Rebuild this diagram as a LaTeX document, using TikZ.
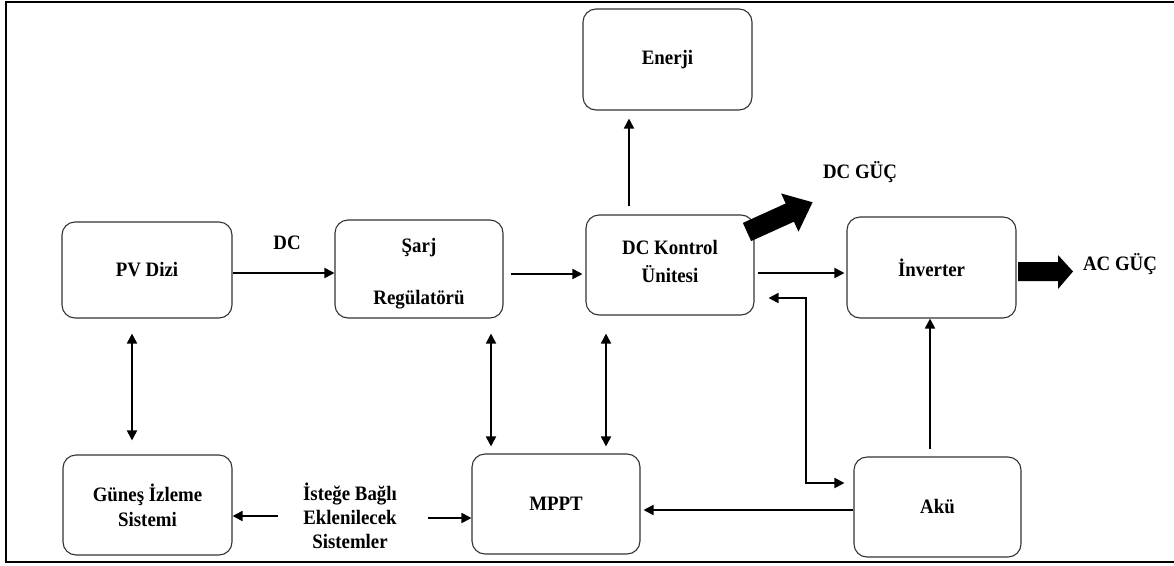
\documentclass[tikz,border=0pt]{standalone}
\usepackage{fontspec}
\setmainfont{Liberation Serif}[FakeStretch=0.92]
\usetikzlibrary{arrows.meta}
\begin{document}
\begin{tikzpicture}[x=1pt,y=-1pt,
  blk/.style={draw=black!80,line width=1.1pt,rounded corners=13pt,minimum width=168pt,minimum height=100pt,inner sep=0pt,align=center,font=\fontsize{20.5}{25}\selectfont\bfseries},
  lbl/.style={inner sep=0pt,align=center,font=\fontsize{20.5}{24}\selectfont\bfseries},
  arr/.style={line width=1.8pt,-{Triangle[length=10pt,width=10pt]}},
  darr/.style={line width=1.8pt,{Triangle[length=10pt,width=10pt]}-{Triangle[length=10pt,width=10pt]}},
  plain/.style={line width=1.8pt}]
\useasboundingbox (0,0) rectangle (1174,565);
\draw[line width=1.6pt] (1174,2) -- (6,2) -- (6,562) -- (1174,562);

\node[blk,minimum width=170pt,minimum height=96pt] (pv) at (147,270) {PV Dizi};
\node[blk,minimum height=98pt] (sarj) at (419,269) {};
\node[lbl,font=\fontsize{20.5}{23}\selectfont\bfseries] (sarjt) at (419,274) {Şarj\\[29pt]Regülatörü};
\node[blk] (dc) at (670,265) {};
\node[lbl,font=\fontsize{20.5}{23}\selectfont\bfseries] (dct) at (670,261) {DC Kontrol\\[5pt]Ünitesi};
\node[blk,minimum width=169pt,minimum height=101pt] (inv) at (931.5,267.5) {İnverter};
\node[blk,minimum width=169pt,minimum height=101pt] (en) at (667.5,59.5) {Enerji};
\node[blk,minimum width=169pt] (gun) at (147.5,505) {Güneş İzleme\\Sistemi};
\node[blk] (mppt) at (556,504) {MPPT};
\node[blk,minimum width=167pt] (aku) at (937.5,507) {Akü};

\node[lbl] (dclbl) at (287,243) {DC};
\node[lbl] (dcguc) at (860,172) {DC GÜÇ};
\node[lbl] (acguc) at (1120,264) {AC GÜÇ};
\node[lbl] (ist) at (350,516) {İsteğe Bağlı\\Eklenilecek\\Sistemler};

% horizontal arrows
\draw[arr] (pv.east |- 0,273) -- (sarj.west |- 0,273);
\draw[arr,shorten <=7pt,shorten >=3pt] (sarj.east |- 0,274) -- (dc.west |- 0,274);
\draw[arr,shorten <=3pt,shorten >=2pt] (dc.east |- 0,273) -- (inv.west |- 0,273);
\draw[arr,shorten >=3pt] (aku.west |- 0,510) -- (mppt.east |- 0,510);
\draw[arr] (278,516) -- (gun.east |- 0,516);
\draw[arr] (428,518) -- (mppt.west |- 0,518);

% vertical arrows
\draw[arr,shorten <=8pt,shorten >=8pt] (629,0 |- dc.north) -- (629,0 |- en.south);
\draw[arr,shorten <=7pt] (930,0 |- aku.north) -- (930,0 |- inv.south);
\draw[darr,shorten <=15pt,shorten >=14pt] (132,0 |- pv.south) -- (132,0 |- gun.north);
\draw[darr,shorten <=15pt,shorten >=7pt] (491,0 |- sarj.south) -- (491,0 |- mppt.north);
\draw[darr,shorten <=18pt,shorten >=7pt] (606,0 |- dc.south) -- (606,0 |- mppt.north);

% DC <-> Akü elbow
\draw[darr,shorten <=14pt,shorten >=9pt] (dc.east |- 0,298) -| (806,483) -- (aku.west |- 0,483);

% block arrows
\begin{scope}[shift={(747,232)},rotate=24.4]
\fill[black] (0pt,-10pt) -- (47pt,-10pt) -- (47pt,-21pt) -- (72pt,0pt) -- (47pt,21pt) -- (47pt,10pt) -- (0pt,10pt) -- cycle;
\end{scope}
\fill[black] (1018,262) -- (1058,262) -- (1058,255) -- (1073,271.5) -- (1058,289) -- (1058,281) -- (1018,281) -- cycle;
\end{tikzpicture}
\end{document}
